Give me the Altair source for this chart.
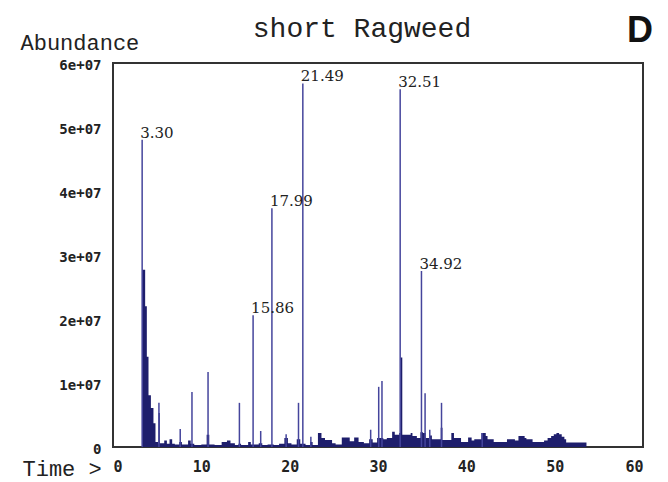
import altair as alt
import pandas as pd

# Total ion chromatogram: the filled envelope (retention time in min, abundance in counts)
base_time = [3.20, 3.30, 3.64, 3.83, 4.02, 4.29, 4.58, 4.81, 5.10, 5.15, 5.30, 5.80,
             6.10, 6.40, 6.70, 7.00, 7.50, 7.80, 8.50, 8.80, 9.20, 10.00, 10.60, 10.90,
             11.50, 12.30, 12.90, 13.30, 13.80, 14.20, 14.50, 15.30, 15.60, 16.50, 16.90,
             17.50, 18.20, 18.80, 19.40, 19.80, 20.20, 20.80, 21.20, 21.80, 22.30, 22.60,
             23.20, 23.60, 24.00, 24.80, 25.20, 25.90, 26.80, 27.30, 27.80, 28.40, 29.00,
             29.40, 29.90, 30.60, 31.00, 31.60, 31.90, 32.40, 32.55, 32.75, 33.70, 33.90,
             34.40, 34.80, 35.10, 35.40, 35.80, 36.10, 37.10, 37.30, 38.30, 38.60, 39.40,
             40.20, 40.60, 40.90, 41.70, 42.20, 42.40, 43.10, 44.60, 45.50, 45.90, 46.60,
             46.80, 47.50, 48.80, 49.20, 49.60, 49.90, 50.20, 50.50, 50.80, 51.10, 51.30,
             53.60]
base_abund = [0, 2.77e7, 2.20e7, 1.41e7, 0.81e7, 0.61e7, 0.37e7, 0.08e7, 0.05e7, 0.53e7,
              0.06e7, 0.10e7, 0.05e7, 0.12e7, 0.05e7, 0.04e7, 0.08e7, 0.04e7, 0.10e7,
              0.05e7, 0.03e7, 0.04e7, 0.19e7, 0.04e7, 0.03e7, 0.08e7, 0.10e7, 0.06e7,
              0.03e7, 0.05e7, 0.03e7, 0.08e7, 0.04e7, 0.06e7, 0.03e7, 0.04e7, 0.03e7,
              0.05e7, 0.14e7, 0.06e7, 0.04e7, 0.12e7, 0.05e7, 0.03e7, 0.08e7, 0.03e7,
              0.22e7, 0.14e7, 0.11e7, 0.06e7, 0.04e7, 0.15e7, 0.09e7, 0.15e7, 0.08e7,
              0.06e7, 0.12e7, 0.07e7, 0.14e7, 0.12e7, 0.14e7, 0.24e7, 0.19e7, 0.22e7,
              1.40e7, 0.19e7, 0.22e7, 0.17e7, 0.14e7, 0.23e7, 0.22e7, 0.14e7, 0.18e7,
              0.12e7, 0.30e7, 0.11e7, 0.22e7, 0.14e7, 0.08e7, 0.15e7, 0.10e7, 0.12e7,
              0.22e7, 0.17e7, 0.12e7, 0.08e7, 0.12e7, 0.10e7, 0.17e7, 0.14e7, 0.12e7,
              0.08e7, 0.10e7, 0.14e7, 0.17e7, 0.20e7, 0.22e7, 0.20e7, 0.16e7, 0.12e7,
              0.07e7, 0]

# Sharp peaks drawn as single vertical lines
peak_time = [3.30, 5.20, 7.61, 8.94, 10.76, 14.31, 15.86, 16.72, 17.99, 19.60, 21.00,
             21.49, 22.40, 29.17, 30.08, 30.45, 32.51, 34.92, 35.33, 35.86, 37.19, 41.80]
peak_abund = [4.80e7, 0.69e7, 0.28e7, 0.86e7, 1.17e7, 0.69e7, 2.06e7, 0.25e7, 3.73e7,
              0.20e7, 0.69e7, 5.68e7, 0.16e7, 0.27e7, 0.94e7, 1.03e7, 5.59e7, 2.75e7,
              0.84e7, 0.27e7, 0.69e7, 0.22e7]

# Peaks annotated with their retention time
labelled_times = [3.30, 15.86, 17.99, 21.49, 32.51, 34.92]

x_ticks = [0, 10, 20, 30, 40, 50, 60]
y_ticks = [0, 1e7, 2e7, 3e7, 4e7, 5e7, 6e7]

NAVY = "#1e1e6c"
LINE = "#45459c"

base_df = pd.DataFrame({"time": base_time, "abundance": base_abund})
peak_df = pd.DataFrame({"time": peak_time, "abundance": peak_abund})
label_df = peak_df[peak_df["time"].isin(labelled_times)].copy()
label_df["label"] = label_df["time"].map(lambda v: f"{v:.2f}")

x_scale = alt.Scale(domain=[0, 60], nice=False, zero=False)
y_scale = alt.Scale(domain=[0, 6e7], nice=False)

x_axis = alt.Axis(
    values=x_ticks, grid=False, ticks=False, domain=False, labelFlush=True,
    labelFont="DejaVu Sans Mono", labelFontWeight="bold", labelFontSize=15,
    labelColor="#222", labelPadding=12,
    title="Time >", titleFont="Liberation Mono", titleFontSize=22,
    titleFontWeight="normal", titleColor="#222", titleAlign="left",
    titleBaseline="middle", titleX=-91, titleY=21, titleAngle=0,
)
y_axis = alt.Axis(
    values=y_ticks, grid=False, ticks=False, domain=False,
    labelExpr="datum.value == 0 ? '0' : format(datum.value / 1e7, 'd') + 'e+07'",
    labelFont="DejaVu Sans Mono", labelFontWeight="bold", labelFontSize=14,
    labelColor="#222", labelPadding=12, labelOffset=2,
    title="Abundance", titleFont="Liberation Mono", titleFontSize=22,
    titleFontWeight="normal", titleColor="#222", titleAngle=0,
    titleAlign="left", titleBaseline="middle", titleX=-93, titleY=-21,
)

envelope = alt.Chart(base_df).mark_area(
    interpolate="step-after", color=NAVY
).encode(
    x=alt.X("time:Q", scale=x_scale, axis=x_axis),
    y=alt.Y("abundance:Q", scale=y_scale, axis=y_axis),
)

spikes = alt.Chart(peak_df).mark_rule(color=LINE, strokeWidth=1.5).encode(
    x=alt.X("time:Q", scale=x_scale),
    y=alt.Y("abundance:Q", scale=y_scale),
    y2=alt.datum(0),
)

labels = alt.Chart(label_df).mark_text(
    align="left", baseline="bottom", dx=-2, dy=1,
    font="DejaVu Serif", fontSize=15, color="#222",
).encode(
    x=alt.X("time:Q", scale=x_scale),
    y=alt.Y("abundance:Q", scale=y_scale),
    text="label:N",
)

heading = alt.Chart(pd.DataFrame({"text": ["short Ragweed"]})).mark_text(
    align="center", baseline="alphabetic", font="Liberation Mono",
    fontSize=28, color="#222",
).encode(
    x=alt.value(249), y=alt.value(-26), text="text:N",
)

panel_tag = alt.Chart(pd.DataFrame({"tag": ["D"]})).mark_text(
    align="right", baseline="middle", font="Liberation Sans", fontWeight="bold",
    fontSize=36, color="#111",
).encode(
    x=alt.value(540), y=alt.value(-32), text="tag:N",
)

chart = alt.layer(envelope, spikes, labels, heading, panel_tag).properties(
    width=530,
    height=384,
    autosize=alt.AutoSizeParams(type="none"),
    padding={"left": 113, "top": 63, "right": 25, "bottom": 35},
    background="white",
).configure_view(stroke="#333", strokeWidth=2)

chart.save("out.html", embed_options={"renderer": "svg", "actions": False})
